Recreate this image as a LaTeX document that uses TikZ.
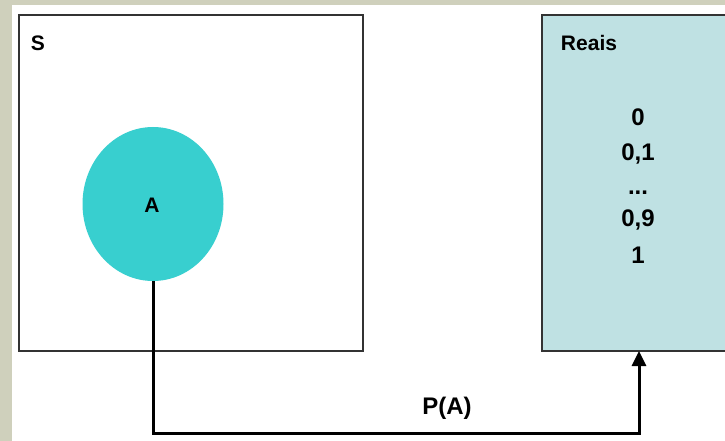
\documentclass[tikz,border=0pt]{standalone}
\usepackage{fontspec}
\setmainfont{Liberation Sans}
\usetikzlibrary{arrows.meta,shapes.geometric}
\definecolor{bgband}{HTML}{CFD0BC}
\definecolor{realfill}{HTML}{BFE1E3}
\definecolor{setA}{HTML}{38CFCF}
\definecolor{boxline}{HTML}{333333}
\tikzset{
  lbl/.style={font=\bfseries\fontsize{21}{24}\selectfont, inner sep=0pt},
  num/.style={font=\bfseries\fontsize{24}{27}\selectfont, inner sep=0pt},
  frame/.style={draw=boxline, line width=1.5pt},
  conn/.style={line width=3pt, -{Triangle[width=14pt,length=15pt]}}
}
\begin{document}
\begin{tikzpicture}[x=1pt,y=-1pt]
\useasboundingbox (0,0) rectangle (725,441);
\clip (0,0) rectangle (725,441);
\fill[bgband] (0,0) rectangle (725,441);
\fill[white] (12,5) rectangle (725,441);
% S box
\draw[frame] (19,15) rectangle (363,351);
\node[lbl, anchor=center] (S) at (38,43) {S};
% Reais box
\draw[frame, fill=realfill] (542,15) rectangle (740,351);
\coordinate (rbot) at (639,351);
\node[lbl] (reais) at (589,43) {Reais};
\node[num] (n0) at (638,117) {0};
\node[num] (n1) at (638,154) {0,1};
\node[num] (nd) at (638,193) {...};
\node[num] (n9) at (638,220) {0,9};
\node[num] (n10) at (638,255) {1};
% ellipse A
\node[fill=setA, ellipse, minimum width=141pt, minimum height=154pt, inner sep=0pt] (A) at (153,204) {};
\node[lbl] (Alab) at (152,205) {A};
% connector
\coordinate (c1) at (153,433);
\coordinate (c2) at (639,433);
\draw[conn] (A.south) -- (c1) -- (c2) -- (rbot);
\node[num] (PA) at (447,408) {P(A)};
\end{tikzpicture}
\end{document}
